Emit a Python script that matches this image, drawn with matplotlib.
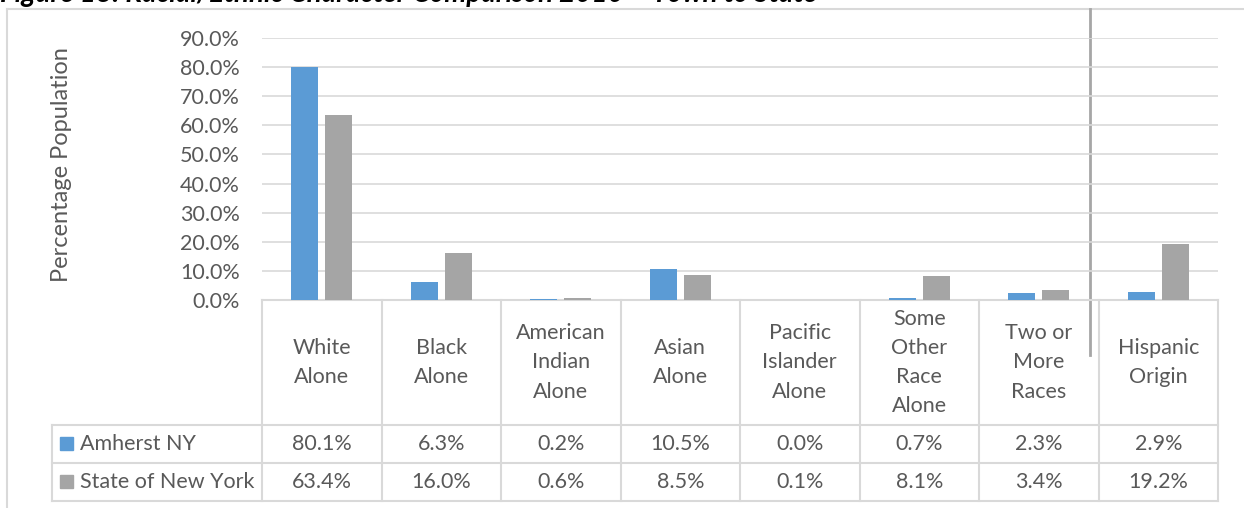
import matplotlib
matplotlib.use('Agg')
from matplotlib import pyplot as plt

plt.rcParams['font.family'] = ['Lato', 'DejaVu Sans']

categories = ['White\nAlone', 'Black\nAlone', 'American\nIndian\nAlone', 'Asian\nAlone',
              'Pacific\nIslander\nAlone', 'Some\nOther\nRace\nAlone', 'Two or\nMore\nRaces',
              'Hispanic\nOrigin']
amherst = [80.1, 6.3, 0.2, 10.5, 0.0, 0.7, 2.3, 2.9]
state = [63.4, 16.0, 0.6, 8.5, 0.1, 8.1, 3.4, 19.2]
series_names = ['Amherst NY', 'State of New York']
yticks = [0, 10, 20, 30, 40, 50, 60, 70, 80, 90]

blue = '#5b9bd5'
grey = '#a5a5a5'
txt = '#595959'
line = '#d9d9d9'
fs = 15.5

W, H = 1244, 508
fig = plt.figure(figsize=(W / 100, H / 100), dpi=100)

# overlay in pixel coords (y down)
ov = fig.add_axes([0, 0, 1, 1])
ov.set_xlim(0, W)
ov.set_ylim(H, 0)
ov.axis('off')

# bar area
x0, x1, ytop, ybot = 262, 1218, 38, 300
ax = fig.add_axes([x0 / W, 1 - ybot / H, (x1 - x0) / W, (ybot - ytop) / H])
idx = range(len(categories))
bw = 0.226
off = 0.143
ax.bar([i - off for i in idx], [v / 100 for v in amherst], width=bw, color=blue, zorder=3)
ax.bar([i + off for i in idx], [v / 100 for v in state], width=bw, color=grey, zorder=3)
ax.set_xlim(-0.5, len(categories) - 0.5)
ax.set_ylim(0, 0.9)
ax.set_yticks([t / 100 for t in yticks])
ax.set_yticklabels(['%.1f%%' % t for t in yticks])
ax.yaxis.grid(True, color=line, lw=1.2, zorder=0)
ax.set_xticks([])
ax.tick_params(axis='y', length=0, pad=16, labelsize=fs, labelcolor=txt)
for s in ax.spines.values():
    s.set_visible(False)
ax.patch.set_alpha(0)

# title (clipped at top as in the source)
ov.text(0, 2, 'Figure 18: Racial/Ethnic Character Comparison 2010 \u2013 Town to State',
        fontsize=20, fontweight='bold', fontstyle='italic', color='black', va='baseline', ha='left')

# chart frame
ov.plot([7, 7], [9, H], color=line, lw=1.5)
ov.plot([7, W], [9, 9], color=line, lw=1.5)

# y label
ov.text(62, 165, 'Percentage Population', rotation=90, ha='center', va='center',
        fontsize=17, color=txt)

# separator line
ov.plot([1090, 1090], [9, 355], color='#a6a6a6', lw=2)

# data table
colw = (x1 - x0) / len(categories)
rows = [300, 425, 463, 501]
ov.plot([x0, x1], [300, 300], color=line, lw=1.5)
for r in rows[1:]:
    ov.plot([52, x1], [r, r], color=line, lw=1.5)
ov.plot([52, 52], [425, 501], color=line, lw=1.5)
for k in range(len(categories) + 1):
    ov.plot([x0 + k * colw] * 2, [300, 501], color=line, lw=1.5)

for i, c in enumerate(categories):
    ov.text(x0 + (i + 0.5) * colw, 362.5, c, ha='center', va='center', fontsize=fs,
            color=txt, linespacing=1.58)

for r, (name, vals, col) in enumerate(zip(series_names, [amherst, state], [blue, grey])):
    yc = (rows[r + 1] + rows[r + 2]) / 2
    ov.add_patch(plt.Rectangle((60, yc - 7), 13, 13, color=col))
    ov.text(80, yc, name, ha='left', va='center', fontsize=fs, color=txt)
    for i, v in enumerate(vals):
        ov.text(x0 + (i + 0.5) * colw, yc, '%.1f%%' % v, ha='center', va='center',
                fontsize=fs, color=txt)

fig.savefig('out.png', dpi=100)
